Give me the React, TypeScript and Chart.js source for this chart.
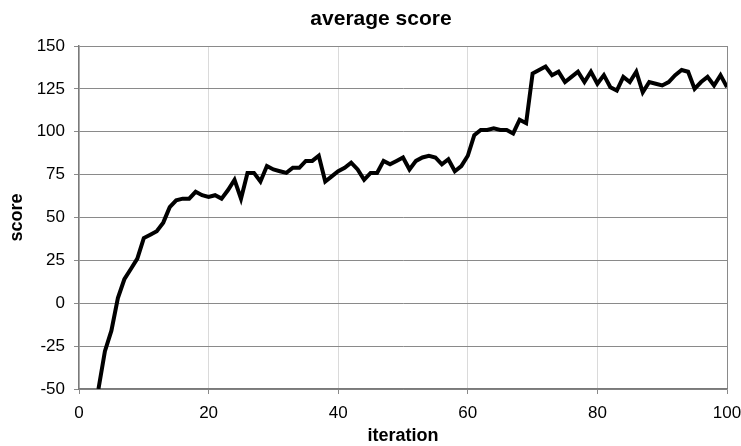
import React, { useEffect, useRef } from "react";
import { Chart, registerables } from "chart.js";

Chart.register(...registerables);

const iterations = [
  3, 4, 5, 6, 7, 8, 9, 10, 11, 12, 13, 14, 15, 16, 17, 18, 19, 20,
  21, 22, 23, 24, 25, 26, 27, 28, 29, 30, 31, 32, 33, 34, 35, 36, 37, 38, 39, 40,
  41, 42, 43, 44, 45, 46, 47, 48, 49, 50, 51, 52, 53, 54, 55, 56, 57, 58, 59, 60,
  61, 62, 63, 64, 65, 66, 67, 68, 69, 70, 71, 72, 73, 74, 75, 76, 77, 78, 79, 80,
  81, 82, 83, 84, 85, 86, 87, 88, 89, 90, 91, 92, 93, 94, 95, 96, 97, 98, 99, 100,
];

const scores = [
  -50, -28, -16, 3, 14, 20, 26, 38, 40, 42, 47, 56, 60, 61, 61, 65, 63, 62,
  63, 61, 66, 72, 61, 76, 76, 71, 80, 78, 77, 76, 79, 79, 83, 83, 86, 71, 74, 77,
  79, 82, 78, 72, 76, 76, 83, 81, 83, 85, 78, 83, 85, 86, 85, 81, 84, 77, 80, 86,
  98, 101, 101, 102, 101, 101, 99, 107, 105, 134, 136, 138, 133, 135, 129, 132, 135, 129, 135, 128,
  133, 126, 124, 132, 129, 135, 123, 129, 128, 127, 129, 133, 136, 135, 125, 129, 132, 127, 133, 126,
];

const xTicks = [0, 20, 40, 60, 80, 100];
const yTicks = [-50, -25, 0, 25, 50, 75, 100, 125, 150];

const titleText = "average score";
const xTitle = "iteration";
const yTitle = "score";

const fam = "'Liberation Sans', Arial, Helvetica, sans-serif";

const titlePlugin = {
  id: "offsetTitle",
  afterDraw(chart: any) {
    const ctx = chart.ctx;
    ctx.save();
    ctx.font = `bold 21px ${fam}`;
    ctx.fillStyle = "#000";
    ctx.textAlign = "center";
    ctx.textBaseline = "middle";
    ctx.fillText(titleText, 381, 19);
    ctx.restore();
  },
};

export default function App() {
  const ref = useRef<HTMLCanvasElement | null>(null);

  useEffect(() => {
    if (!ref.current) return;
    const chart = new Chart(ref.current, {
      type: "line",
      data: {
        datasets: [
          {
            data: iterations.map((x, i) => ({ x, y: scores[i] })),
            borderColor: "#000000",
            borderWidth: 4,
            pointRadius: 0,
            tension: 0,
            fill: false,
          },
        ],
      },
      plugins: [titlePlugin],
      options: {
        animation: false,
        responsive: true,
        maintainAspectRatio: false,
        layout: { padding: { left: 0, right: 14, top: 46, bottom: 0 } },
        plugins: {
          legend: { display: false },
          tooltip: { enabled: false },
          title: { display: false },
        },
        scales: {
          x: {
            type: "linear",
            min: 0,
            max: 100,
            afterBuildTicks: (scale: any) => {
              scale.ticks = xTicks.map((v) => ({ value: v }));
            },
            afterFit: (scale: any) => {
              scale.height = 57;
              scale.paddingLeft = 0;
              scale.paddingRight = 0;
            },
            ticks: {
              color: "#000",
              font: { family: fam, size: 17 },
              padding: 9,
              maxRotation: 0,
            },
            grid: {
              color: (ctx: any) => (ctx.tick && ctx.tick.value === 100 ? "#8a8a8a" : "#dadada"),
              tickColor: "#8a8a8a",
              tickLength: 5,
              lineWidth: 1,
            },
            border: { color: "#7a7a7a", width: 1.5 },
            title: {
              display: true,
              text: xTitle,
              color: "#000",
              font: { family: fam, size: 18, weight: "bold" },
              padding: { top: 0, bottom: -1 },
            },
          },
          y: {
            type: "linear",
            min: -50,
            max: 150,
            afterBuildTicks: (scale: any) => {
              scale.ticks = yTicks.map((v) => ({ value: v }));
            },
            afterFit: (scale: any) => {
              scale.width = 79;
              scale.paddingTop = 0;
              scale.paddingBottom = 0;
            },
            ticks: {
              color: "#000",
              font: { family: fam, size: 17 },
              padding: 9,
            },
            grid: {
              color: "#8a8a8a",
              tickColor: "#8a8a8a",
              tickLength: 5,
              lineWidth: 1,
            },
            border: { color: "#7a7a7a", width: 1.5 },
            title: {
              display: true,
              text: yTitle,
              color: "#000",
              font: { family: fam, size: 18, weight: "bold" },
              padding: { top: 6, bottom: 0 },
            },
          },
        },
      },
    });
    return () => chart.destroy();
  }, []);

  return (
    <div style={{ position: "fixed", left: 0, top: 0, width: 741, height: 446, background: "#fff" }}>
      <canvas ref={ref} />
    </div>
  );
}
